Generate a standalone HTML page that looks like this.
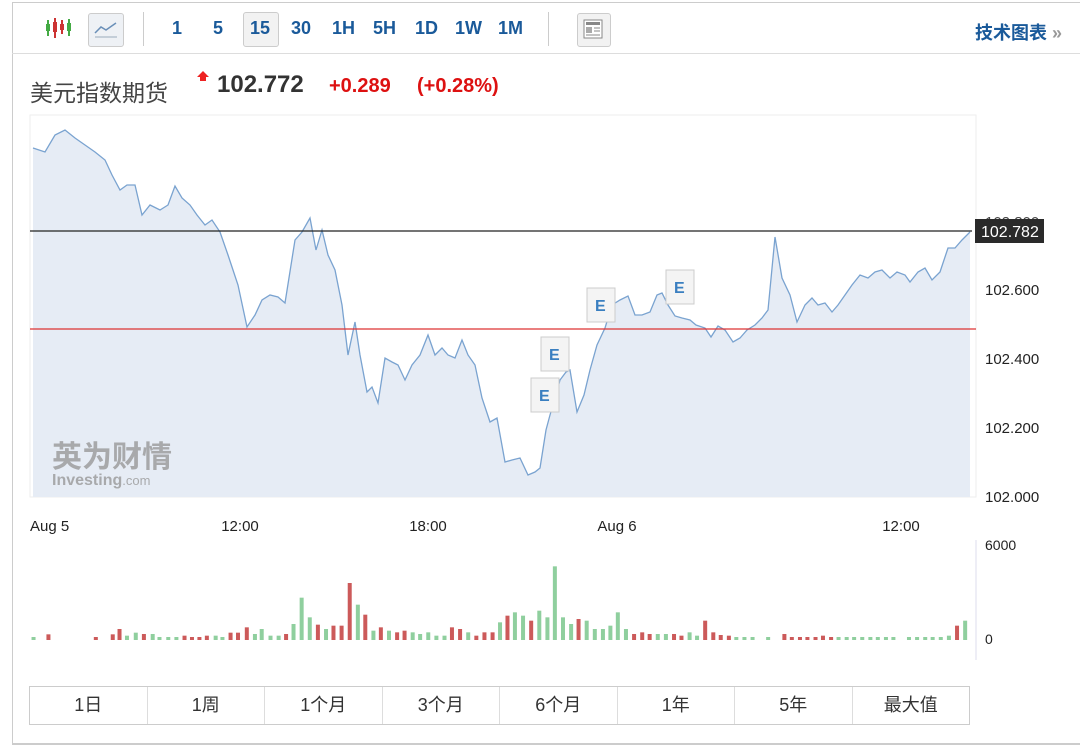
<!DOCTYPE html>
<html><head><meta charset="utf-8"><style>
body{margin:0;width:1080px;height:745px;background:#fff;font-family:"Liberation Sans","Noto Sans CJK SC",sans-serif;overflow:hidden;position:relative}
.a{position:absolute}
.tb{color:#1a5a9a;font-weight:bold;font-size:18px;top:18px}
</style></head><body>
<div class="a" style="left:12px;top:2px;width:1070px;height:740px;border-top:1px solid #ccc;border-left:1px solid #ccc;border-bottom:2px solid #ccc"></div>
<div class="a" style="left:12px;top:53px;width:1068px;border-top:1px solid #ddd"></div>
<svg class="a" style="left:44px;top:16px" width="28" height="24"><g stroke-width="2"><line x1="4" y1="4" x2="4" y2="20" stroke="#4a4"/><line x1="11" y1="2" x2="11" y2="22" stroke="#c33"/><line x1="18" y1="4" x2="18" y2="18" stroke="#c33"/><line x1="25" y1="3" x2="25" y2="20" stroke="#4a4"/></g><rect x="2" y="8" width="4" height="7" fill="#4a4"/><rect x="9" y="6" width="4" height="10" fill="#c33"/><rect x="16" y="8" width="4" height="6" fill="#c33"/><rect x="23" y="7" width="4" height="8" fill="#4a4"/></svg>
<div class="a" style="left:88px;top:13px;width:34px;height:32px;border:1px solid #ccc;border-radius:3px;background:#eef1f5"></div>
<svg class="a" style="left:92px;top:18px" width="28" height="22"><path d="M3 15 L9 9 L14 12 L24 5" stroke="#6a8fb8" fill="none" stroke-width="1.5"/><line x1="3" y1="19" x2="25" y2="19" stroke="#9ab"/></svg>
<div class="a" style="left:143px;top:12px;height:34px;border-left:1px solid #ccc"></div>
<div class="a tb" style="left:172px">1</div>
<div class="a tb" style="left:213px">5</div>
<div class="a" style="left:243px;top:12px;width:34px;height:33px;border:1px solid #ccc;border-radius:3px;background:#f2f2f2"></div>
<div class="a tb" style="left:250px">15</div>
<div class="a tb" style="left:291px">30</div>
<div class="a tb" style="left:332px">1H</div>
<div class="a tb" style="left:373px">5H</div>
<div class="a tb" style="left:415px">1D</div>
<div class="a tb" style="left:455px">1W</div>
<div class="a tb" style="left:498px">1M</div>
<div class="a" style="left:548px;top:12px;height:34px;border-left:1px solid #ccc"></div>
<div class="a" style="left:577px;top:13px;width:32px;height:32px;border:1px solid #ccc;border-radius:3px;background:#f2f2f2"></div>
<svg class="a" style="left:583px;top:19px" width="20" height="20"><rect x="1" y="1" width="18" height="18" fill="#fff" stroke="#888"/><rect x="3" y="3" width="14" height="3" fill="#888"/><rect x="3" y="8" width="6" height="6" fill="#aaa"/><line x1="11" y1="9" x2="17" y2="9" stroke="#888"/><line x1="11" y1="12" x2="17" y2="12" stroke="#888"/><line x1="3" y1="16" x2="17" y2="16" stroke="#888"/></svg>
<div class="a" style="left:975px;top:19px;color:#1a5a9a;font-weight:bold;font-size:18px">技术图表 <span style="color:#999">»</span></div>
<div class="a" style="left:30px;top:74px;font-size:23px;color:#444">美元指数期货</div>
<svg class="a" style="left:196px;top:70px" width="14" height="12"><path d="M7 1 L13 7 L10 7 L10 11 L4 11 L4 7 L1 7 Z" fill="#e22"/></svg>
<div class="a" style="left:217px;top:71px;font-size:24px;font-weight:bold;color:#333">102.772</div>
<div class="a" style="left:329px;top:75px;font-size:20px;font-weight:bold;color:#d11">+0.289</div>
<div class="a" style="left:417px;top:75px;font-size:20px;font-weight:bold;color:#d11">(+0.28%)</div>
<svg class="a" style="left:0;top:0" width="1080" height="745" id="s">
<rect x="30" y="115" width="946" height="382" fill="#fff" stroke="#eee"/>
<line x1="976" y1="540" x2="976" y2="660" stroke="#dde"/>
<path id="area" fill="#e6ecf5" stroke="none"/>
<path id="ln" fill="none" stroke="#7aa3d0" stroke-width="1.3"/>
<line x1="30" y1="231" x2="972" y2="231" stroke="#222" stroke-width="1.2"/>
<line x1="30" y1="329" x2="976" y2="329" stroke="#d33" stroke-width="1.2"/>
<g font-size="15" fill="#222" font-family="Liberation Sans"><text x="985" y="227" fill="#444">102.800</text><text x="985" y="295">102.600</text><text x="985" y="364">102.400</text><text x="985" y="433">102.200</text><text x="985" y="502">102.000</text>
<text x="30" y="531">Aug 5</text><text x="240" y="531" text-anchor="middle">12:00</text><text x="428" y="531" text-anchor="middle">18:00</text><text x="617" y="531" text-anchor="middle">Aug 6</text><text x="901" y="531" text-anchor="middle">12:00</text>
<text x="985" y="550" font-size="14">6000</text><text x="985" y="644" font-size="14">0</text></g>
<rect x="975" y="219" width="69" height="24" fill="#2a2a2a"/><text x="981" y="237" fill="#fff" font-size="16" font-family="Liberation Sans">102.782</text>
<g font-family="Liberation Sans,Noto Sans CJK SC" fill="#999" opacity="0.8"><text x="52" y="467" font-size="30" font-weight="bold">英为财情</text><text x="52" y="485" font-size="16" font-weight="bold">Investing<tspan font-weight="normal" font-size="13">.com</tspan></text></g>
<g id="ev" font-family="Liberation Sans" font-size="16" font-weight="bold" fill="#3a7fc0"></g>
<g id="vol"></g>
</svg>
<div class="a" style="left:29px;top:686px;width:939px;height:37px;border:1px solid #ccc;display:flex">
<div style="flex:1;border-right:1px solid #ddd;text-align:center;line-height:37px;font-size:18px;color:#333">1日</div><div style="flex:1;border-right:1px solid #ddd;text-align:center;line-height:37px;font-size:18px;color:#333">1周</div><div style="flex:1;border-right:1px solid #ddd;text-align:center;line-height:37px;font-size:18px;color:#333">1个月</div><div style="flex:1;border-right:1px solid #ddd;text-align:center;line-height:37px;font-size:18px;color:#333">3个月</div><div style="flex:1;border-right:1px solid #ddd;text-align:center;line-height:37px;font-size:18px;color:#333">6个月</div><div style="flex:1;border-right:1px solid #ddd;text-align:center;line-height:37px;font-size:18px;color:#333">1年</div><div style="flex:1;border-right:1px solid #ddd;text-align:center;line-height:37px;font-size:18px;color:#333">5年</div><div style="flex:1;text-align:center;line-height:37px;font-size:18px;color:#333">最大值</div></div>
<script>
var P=[33,148,45,152,55,135,65,130,75,138,85,145,95,152,105,160,112,175,120,190,127,185,135,185,142,215,150,205,160,210,168,205,175,186,182,198,190,205,197,215,205,225,212,220,220,232,228,255,238,285,247,327,255,315,262,300,270,295,278,297,285,303,295,240,302,232,310,218,316,250,322,230,328,255,335,270,342,305,348,355,355,322,360,355,367,392,372,387,378,403,385,358,392,362,398,365,405,380,412,365,420,355,428,335,435,355,442,348,448,355,455,358,462,340,468,355,475,365,482,398,490,422,497,418,505,462,512,460,520,458,528,475,535,472,540,468,546,430,550,415,556,395,560,380,566,372,570,370,577,412,584,395,590,370,597,345,605,328,612,305,620,300,628,296,635,315,642,315,650,312,657,295,662,293,668,305,675,316,682,318,690,320,696,325,705,328,711,337,718,326,725,330,733,342,740,338,747,330,755,325,762,318,768,310,775,237,782,278,790,295,797,322,805,305,812,298,818,305,825,303,832,312,838,305,845,295,852,285,860,275,868,278,875,272,882,270,890,278,897,272,905,275,910,282,918,272,925,268,932,280,940,272,948,248,955,248,962,240,970,232];
var d="";for(var i=0;i<P.length;i+=2)d+=(i?"L":"M")+P[i]+" "+P[i+1];
document.getElementById("ln").setAttribute("d",d);
document.getElementById("area").setAttribute("d",d+"L970 497L33 497Z");
var ns="http://www.w3.org/2000/svg",ev=document.getElementById("ev");
[[531,378],[541,337],[587,288],[666,270]].forEach(function(e){var r=document.createElementNS(ns,"rect");r.setAttribute("x",e[0]);r.setAttribute("y",e[1]);r.setAttribute("width",28);r.setAttribute("height",34);r.setAttribute("fill","#f4f4f4");r.setAttribute("stroke","#ccc");ev.appendChild(r);var t=document.createElementNS(ns,"text");t.setAttribute("x",e[0]+8);t.setAttribute("y",e[1]+23);t.textContent="E";ev.appendChild(t);});
var V=[20,322,"g",42,314,"r",112,322,"r",137,314,"r",147,298,"r",158,318,"g",171,309,"g",183,313,"r",196,313,"g",206,322,"g",219,322,"g",231,322,"g",243,318,"r",254,322,"r",265,322,"r",276,318,"r",289,318,"g",299,322,"g",311,309,"r",322,309,"r",335,293,"r",347,313,"g",357,298,"g",370,318,"g",382,318,"g",393,313,"r",404,283,"g",416,204,"g",428,263,"g",440,285,"r",452,298,"g",463,288,"r",475,288,"r",487,160,"r",499,225,"g",510,255,"r",522,303,"g",533,293,"r",545,303,"g",557,308,"r",568,303,"r",580,308,"g",591,313,"g",603,308,"g",615,318,"g",627,318,"g",638,293,"r",650,298,"r",662,308,"g",674,318,"r",686,308,"r",698,308,"r",709,278,"g",720,258,"r",731,248,"g",743,258,"g",755,273,"r",767,243,"g",779,263,"g",790,110,"g",802,263,"g",814,283,"g",825,268,"r",837,273,"g",849,298,"g",861,298,"g",872,288,"g",883,248,"g",895,298,"g",907,313,"r",919,308,"r",930,313,"r",942,313,"g",954,313,"g",966,313,"r",977,318,"r",989,308,"g",1000,318,"g",1012,273,"r",1024,308,"r",1035,316,"r",1047,318,"r",1058,322,"g",1070,322,"g",1082,322,"g",1105,322,"g",1129,313,"r",1140,322,"r",1152,322,"r",1163,322,"r",1175,322,"r",1186,318,"r",1198,322,"r",1209,322,"g",1221,322,"g",1232,322,"g",1244,322,"g",1256,322,"g",1267,322,"g",1279,322,"g",1290,322,"g",1313,322,"g",1325,322,"g",1337,322,"g",1348,322,"g",1360,322,"g",1372,318,"g",1384,288,"r",1396,273,"g"];
var vg=document.getElementById("vol");
for(var i=0;i<V.length;i+=3){var r=document.createElementNS(ns,"rect");var x=20+V[i]/1.477,h=(331-V[i+1])/3;r.setAttribute("x",x-2);r.setAttribute("y",640-h);r.setAttribute("width",4);r.setAttribute("height",h);r.setAttribute("fill",V[i+2]=="g"?"#8fcf9e":"#cc5a5a");vg.appendChild(r);}
</script>
</body></html>
